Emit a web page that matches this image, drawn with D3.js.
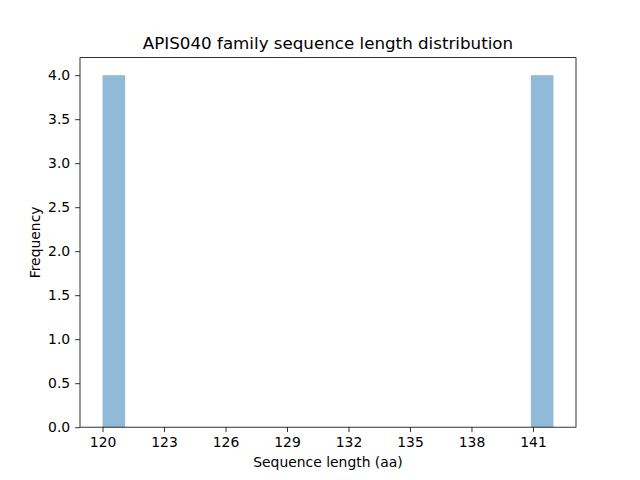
<!DOCTYPE html>
<html>
<head>
<meta charset="utf-8">
<script src="https://cdn.jsdelivr.net/npm/d3@7"></script>
<style>
  body { margin: 0; background: #fff; }
  text { font-family: "DejaVu Sans", sans-serif; fill: #000; }
</style>
</head>
<body>
<svg width="640" height="480"></svg>
<script>
// histogram: 20 equal bins between min and max length
var binStart = 120, binEnd = 142, binCount = 20;
var binCounts = [4, 0, 0, 0, 0, 0, 0, 0, 0, 0, 0, 0, 0, 0, 0, 0, 0, 0, 0, 4];
var xTicks = [120, 123, 126, 129, 132, 135, 138, 141];
var yTicks = [0, 0.5, 1, 1.5, 2, 2.5, 3, 3.5, 4];

var svg = d3.select("svg"),
    margin = {top: 57.6, right: 64, bottom: 52.8, left: 80},
    width = +svg.attr("width") - margin.left - margin.right,
    height = +svg.attr("height") - margin.top - margin.bottom,
    g = svg.append("g").attr("transform", "translate(" + margin.left + "," + margin.top + ")");

var binW = (binEnd - binStart) / binCount;
var bins = binCounts.map(function (c, i) {
    return {x0: binStart + i * binW, x1: binStart + (i + 1) * binW, n: c};
});

var pad = (binEnd - binStart) * 0.05;
var x = d3.scaleLinear().domain([binStart - pad, binEnd + pad]).range([0, width]);
var yMax = d3.max(binCounts) * 1.05;
var y = d3.scaleLinear().domain([0, yMax]).range([height, 0]);

g.append("g")
    .selectAll("rect")
    .data(bins.filter(function (d) { return d.n > 0; }))
    .enter().append("rect")
    .attr("x", function (d) { return x(d.x0); })
    .attr("width", function (d) { return x(d.x1) - x(d.x0); })
    .attr("y", function (d) { return y(d.n); })
    .attr("height", function (d) { return y(0) - y(d.n); })
    .attr("fill", "#1f77b4")
    .attr("fill-opacity", 0.5);

var xAxis = g.append("g")
    .attr("transform", "translate(0," + height + ")")
    .call(d3.axisBottom(x).tickValues(xTicks).tickFormat(d3.format("d")).tickSize(4.9).tickPadding(4.9).tickSizeOuter(0));

var yAxis = g.append("g")
    .call(d3.axisLeft(y).tickValues(yTicks).tickFormat(d3.format(".1f")).tickSize(4.9).tickPadding(4.9).tickSizeOuter(0));

[xAxis, yAxis].forEach(function (a) {
    a.select(".domain").remove();
    a.selectAll("line").attr("stroke", "#000").attr("stroke-width", 0.8);
    a.selectAll("text").style("font-family", "DejaVu Sans, sans-serif").style("font-size", "13.9px").attr("fill", "#000");
});

// frame
g.append("rect")
    .attr("width", width)
    .attr("height", height)
    .attr("fill", "none")
    .attr("stroke", "#000")
    .attr("stroke-width", 0.8);

svg.append("text")
    .attr("x", margin.left + width / 2)
    .attr("y", margin.top - 9)
    .attr("text-anchor", "middle")
    .style("font-size", "16.7px")
    .text("APIS040 family sequence length distribution");

svg.append("text")
    .attr("x", margin.left + width / 2)
    .attr("y", 467)
    .attr("text-anchor", "middle")
    .style("font-size", "13.9px")
    .text("Sequence length (aa)");

svg.append("text")
    .attr("transform", "translate(40," + (margin.top + height / 2) + ") rotate(-90)")
    .attr("text-anchor", "middle")
    .style("font-size", "13.9px")
    .text("Frequency");
</script>
</body>
</html>
